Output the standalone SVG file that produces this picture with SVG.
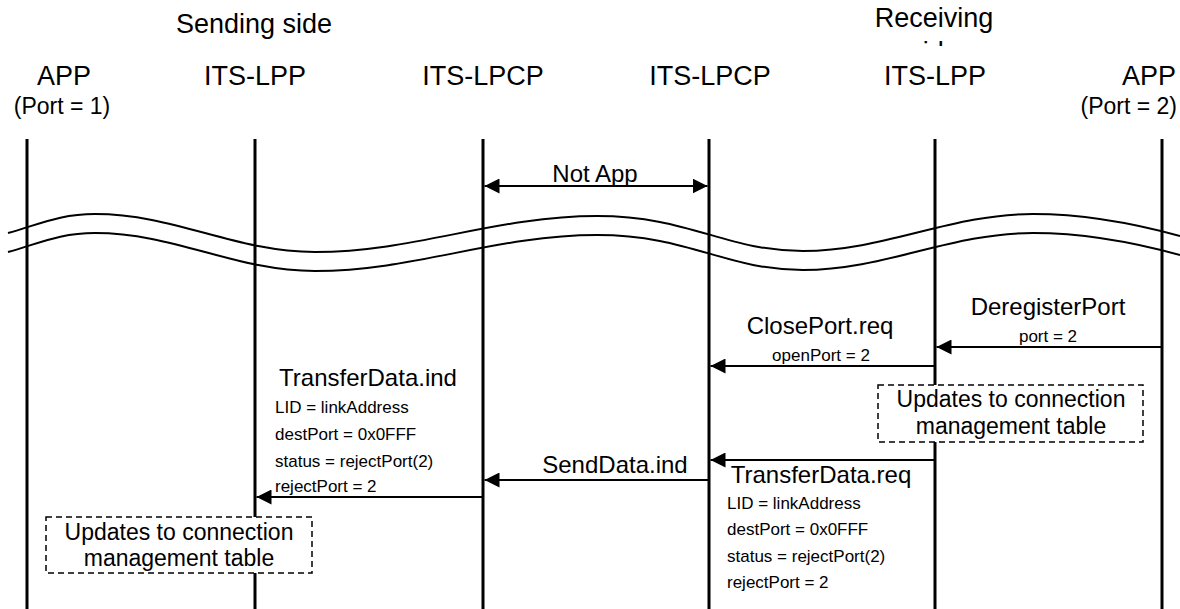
<svg xmlns="http://www.w3.org/2000/svg" width="1180" height="609" viewBox="0 0 1180 609">
<style>
text{font-family:"Liberation Sans",Arial,sans-serif;fill:#000}
.h{font-size:27px;text-anchor:middle}
.p{font-size:23px}
.m{font-size:24px;text-anchor:middle}
.s{font-size:17px}
.u{font-size:23px;text-anchor:middle}
.life{stroke:#000;stroke-width:3;fill:none}
.msg{stroke:#000;stroke-width:2;fill:none;marker-end:url(#ah)}
.wave{stroke:#000;stroke-width:2;fill:none}
.note{fill:#fff;stroke:#000;stroke-width:1.5;stroke-dasharray:6 4}
</style>
<defs>
<marker id="ah" markerUnits="userSpaceOnUse" markerWidth="15" markerHeight="15" refX="15" refY="7.5" orient="auto-start-reverse" viewBox="0 0 15 15">
<path d="M0,0 L15,7.5 L0,15 z" fill="#000"/>
</marker>
<clipPath id="cut"><rect x="850" y="0" width="200" height="46"/></clipPath>
</defs>
<rect width="1180" height="609" fill="#fff"/>
<g id="headers">
<text class="h" x="254" y="33">Sending side</text>
<g clip-path="url(#cut)">
<text class="h" x="934" y="27">Receiving</text>
<text class="h" x="934" y="61">side</text>
</g>
</g>
<g id="lifeline-app1">
<text class="h" x="64" y="85">APP</text>
<text class="p" x="62" y="114" text-anchor="middle">(Port = 1)</text>
<line class="life" x1="27" y1="139" x2="27" y2="609"/>
</g>
<g id="lifeline-lpp1">
<text class="h" x="255" y="85">ITS-LPP</text>
<line class="life" x1="255" y1="139" x2="255" y2="609"/>
</g>
<g id="lifeline-lpcp1">
<text class="h" x="483" y="85">ITS-LPCP</text>
<line class="life" x1="483" y1="139" x2="483" y2="609"/>
</g>
<g id="lifeline-lpcp2">
<text class="h" x="710" y="85">ITS-LPCP</text>
<line class="life" x1="709" y1="139" x2="709" y2="609"/>
</g>
<g id="lifeline-lpp2">
<text class="h" x="935" y="85">ITS-LPP</text>
<line class="life" x1="935" y1="139" x2="935" y2="609"/>
</g>
<g id="lifeline-app2">
<text class="h" x="1176" y="85" text-anchor="end" style="text-anchor:end">APP</text>
<text class="p" x="1177" y="114" text-anchor="end">(Port = 2)</text>
<line class="life" x1="1162" y1="139" x2="1162" y2="609"/>
</g>
<g id="break">
<path class="wave" d="M8,233 C40,224 60,214 95,214 C175,214 235,252 315,252 C415,252 495,216 597,216 C690,216 725,251 803,251 C885,251 950,214 1033,214 C1090,214 1140,225 1180,236"/>
<path class="wave" d="M8,252 C40,243 60,233 95,233 C175,233 235,271 315,271 C415,271 495,235 597,235 C690,235 725,270 803,270 C885,270 950,233 1033,233 C1090,233 1140,244 1180,255"/>
</g>
<g id="connectors">
<line class="msg" x1="596" y1="186" x2="484.5" y2="186"/>
<line class="msg" x1="596" y1="186" x2="707.5" y2="186"/>
<rect x="555" y="164" width="80" height="20" fill="#fff"/>
<text class="m" x="595" y="182">Not App</text>
<line class="msg" x1="1161" y1="347" x2="936.5" y2="347"/>
<text class="m" x="1048" y="315">DeregisterPort</text>
<text class="s" x="1048" y="342" text-anchor="middle">port = 2</text>
<line class="msg" x1="934" y1="366" x2="710.5" y2="366"/>
<text class="m" x="820" y="334">ClosePort.req</text>
<text class="s" x="821" y="361" text-anchor="middle">openPort = 2</text>
<line class="msg" x1="934" y1="460" x2="710.5" y2="460"/>
<text class="m" x="821" y="483">TransferData.req</text>
<text class="s" x="727" y="509">LID = linkAddress</text>
<text class="s" x="727" y="535">destPort = 0x0FFF</text>
<text class="s" x="727" y="562">status = rejectPort(2)</text>
<text class="s" x="727" y="588">rejectPort = 2</text>
<line class="msg" x1="708" y1="480" x2="484.5" y2="480"/>
<text class="m" x="615" y="473">SendData.ind</text>
<line class="msg" x1="482" y1="497" x2="256.5" y2="497"/>
<text class="m" x="368" y="386">TransferData.ind</text>
<text class="s" x="275" y="413">LID = linkAddress</text>
<text class="s" x="275" y="440">destPort = 0x0FFF</text>
<text class="s" x="275" y="467">status = rejectPort(2)</text>
<text class="s" x="275" y="492">rejectPort = 2</text>
</g>
<g id="note-receiving">
<rect class="note" x="878" y="385" width="265" height="57"/>
<text class="u" x="1011" y="407">Updates to connection</text>
<text class="u" x="1011" y="434">management table</text>
</g>
<g id="note-sending">
<rect class="note" x="46" y="517" width="266" height="56"/>
<text class="u" x="179" y="540">Updates to connection</text>
<text class="u" x="179" y="566">management table</text>
</g>
</svg>
